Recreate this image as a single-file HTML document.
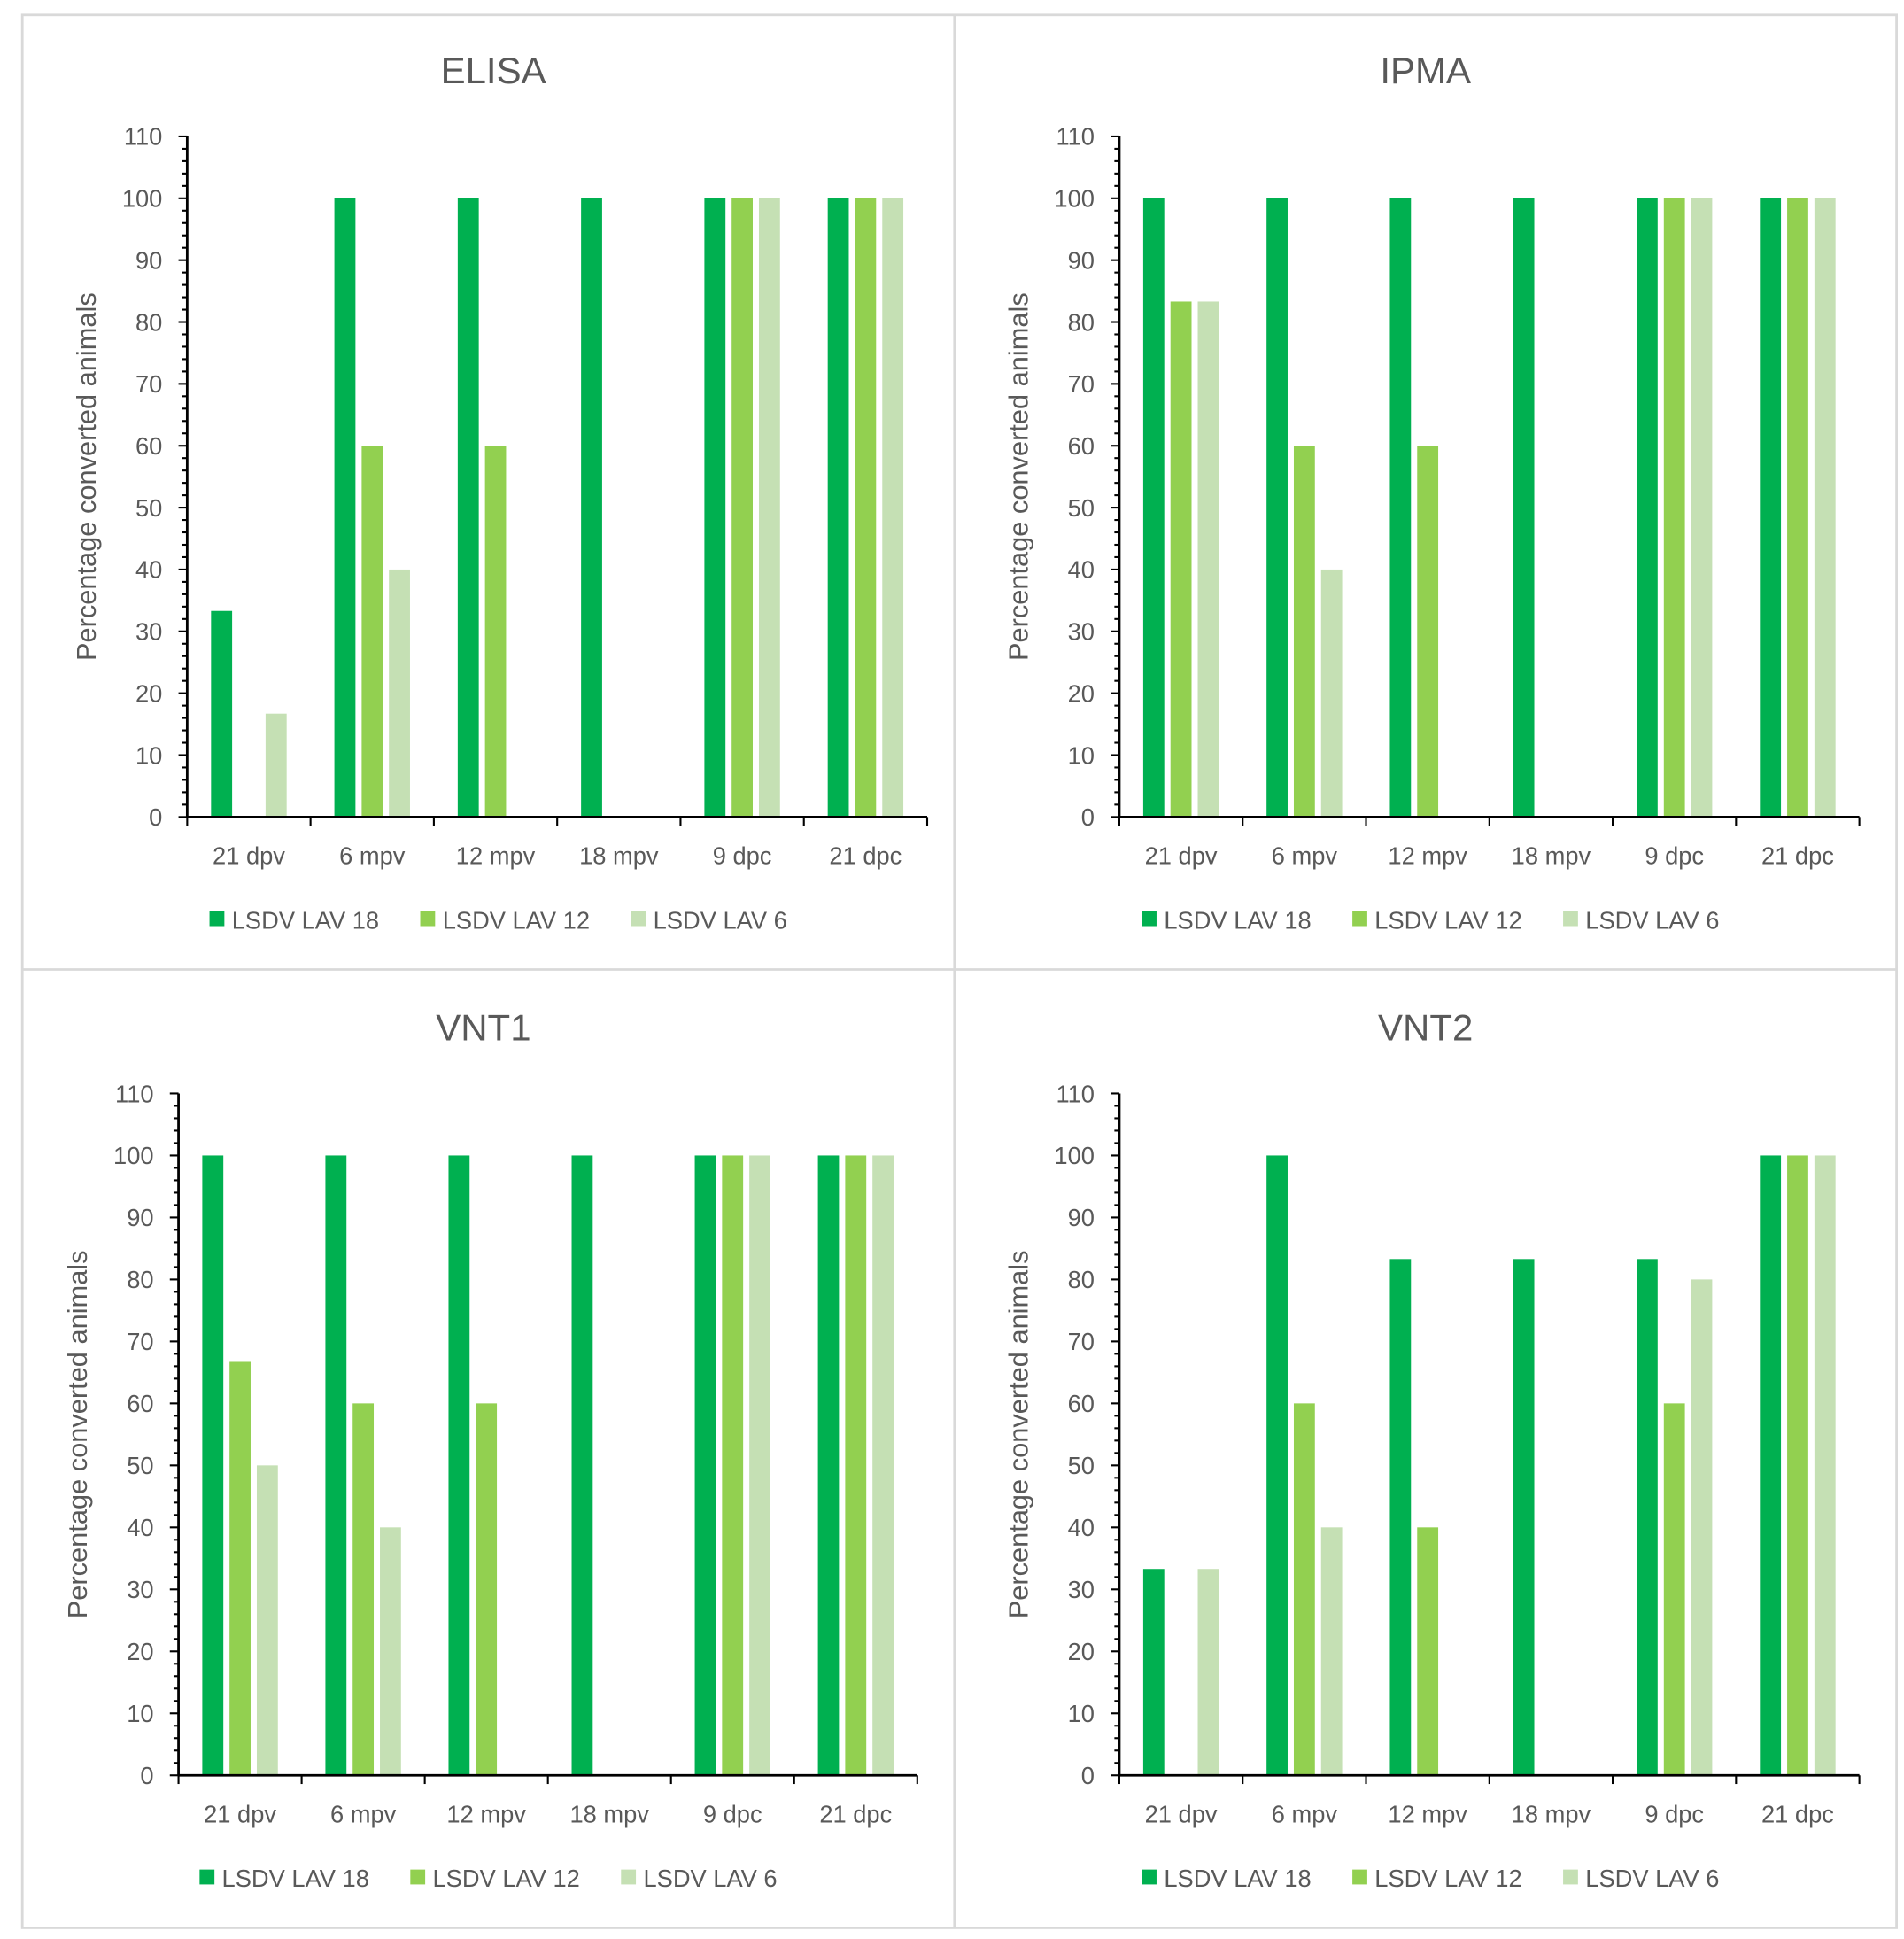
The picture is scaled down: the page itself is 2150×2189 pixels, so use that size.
<!DOCTYPE html>
<html><head><meta charset="utf-8"><style>
html,body{margin:0;padding:0;background:#fff;}
svg{display:block;}
text{font-family:"Liberation Sans",sans-serif;fill:#595959;}
</style></head><body>
<svg id="fig" width="2150" height="2189" viewBox="0 0 1536 1564" preserveAspectRatio="none" xmlns="http://www.w3.org/2000/svg">
<rect x="0" y="0" width="1536" height="1564" fill="#fff"/>
<rect x="18" y="12" width="1512" height="1543" fill="none" stroke="#d9d9d9" stroke-width="2"/>
<line x1="770" y1="12" x2="770" y2="1555" stroke="#d9d9d9" stroke-width="2"/>
<line x1="18" y1="782" x2="1530" y2="782" stroke="#d9d9d9" stroke-width="2"/>
</svg>
<script>
const categories = ["21 dpv","6 mpv","12 mpv","18 mpv","9 dpc","21 dpc"];
const seriesNames = ["LSDV LAV 18","LSDV LAV 12","LSDV LAV 6"];
const yTicks = [0,10,20,30,40,50,60,70,80,90,100,110];
const elisa18 = [33.3,100,100,100,100,100];
const elisa12 = [0,60,60,0,100,100];
const elisa6  = [16.7,40,0,0,100,100];
const ipma18 = [100,100,100,100,100,100];
const ipma12 = [83.3,60,60,0,100,100];
const ipma6  = [83.3,40,0,0,100,100];
const vnt1_18 = [100,100,100,100,100,100];
const vnt1_12 = [66.7,60,60,0,100,100];
const vnt1_6  = [50,40,0,0,100,100];
const vnt2_18 = [33.3,100,83.3,83.3,83.3,100];
const vnt2_12 = [0,60,40,0,60,100];
const vnt2_6  = [33.3,40,0,0,80,100];

const colors = ["#00b050","#92d050","#c5e0b4"];
const NS = "http://www.w3.org/2000/svg";
const svg = document.getElementById("fig");
function el(tag, attrs, parent){
  const e = document.createElementNS(NS, tag);
  for (const k in attrs) e.setAttribute(k, attrs[k]);
  (parent||svg).appendChild(e);
  return e;
}
const panels = [
  {title:"ELISA", slug:"elisa", series:[elisa18,elisa12,elisa6], x0:151, x1:748, yTop:110, yBot:659, titleX:398, titleY:67, ytX:77, legY:742, legX:175},
  {title:"IPMA", slug:"ipma", series:[ipma18,ipma12,ipma6], x0:903, x1:1500, yTop:110, yBot:659, titleX:1150, titleY:67, ytX:829, legY:742, legX:927},
  {title:"VNT1", slug:"vnt1", series:[vnt1_18,vnt1_12,vnt1_6], x0:144, x1:740, yTop:882, yBot:1432, titleX:390, titleY:839, ytX:70, legY:1515, legX:167},
  {title:"VNT2", slug:"vnt2", series:[vnt2_18,vnt2_12,vnt2_6], x0:903, x1:1500, yTop:882, yBot:1432, titleX:1150, titleY:839, ytX:829, legY:1515, legX:927}
];
panels.forEach(p => {
  const g = el("g", {});
  
  
  const yMax = yTicks[yTicks.length-1];
  const yS = v => p.yBot - (v / yMax) * (p.yBot - p.yTop);
  const cw = (p.x1 - p.x0) / categories.length;
  const xC = i => p.x0 + cw * (i + 0.5);
  const t = el("text", {x:p.titleX, y:p.titleY, "font-size":30, "text-anchor":"middle"}, g);
  t.textContent = p.title;
  
  
  p.series.forEach((vals, s) => {
    vals.forEach((v, i) => {
      if (v <= 0) return;
      const cx = xC(i) + (s - 1) * 22;
      const r = el("rect", {x:cx - 8.5, y:yS(v), width:17, height:yS(0) - yS(v), fill:colors[s]}, g);
      
      
    });
  });
  const ya = el("line", {x1:p.x0, y1:p.yTop, x2:p.x0, y2:p.yBot, stroke:"#000", "stroke-width":2}, g);
  
  
  for (let v = 0; v <= yMax; v += 2) {
    const major = v % 10 === 0;
    el("line", {x1:p.x0 - (major ? 7 : 4), y1:yS(v), x2:p.x0, y2:yS(v), stroke:"#000", "stroke-width":1.5}, g);
  }
  yTicks.forEach(v => {
    const tl = el("text", {x:p.x0 - 20, y:yS(v) + 7, "font-size":19.5, "text-anchor":"end"}, g);
    tl.textContent = v;
    
    
  });
  const ymid = (p.yTop + p.yBot) / 2;
  const yt = el("text", {x:p.ytX, y:ymid, "font-size":22, "text-anchor":"middle", transform:"rotate(-90 " + p.ytX + " " + ymid + ")"}, g);
  yt.textContent = "Percentage converted animals";
  
  
  const xa = el("line", {x1:p.x0, y1:p.yBot, x2:p.x1, y2:p.yBot, stroke:"#000", "stroke-width":2}, g);
  
  
  for (let i = 0; i <= categories.length; i++) {
    el("line", {x1:p.x0 + cw * i, y1:p.yBot, x2:p.x0 + cw * i, y2:p.yBot + 7, stroke:"#000", "stroke-width":1.5}, g);
  }
  categories.forEach((c, i) => {
    const xl = el("text", {x:xC(i), y:p.yBot + 38, "font-size":19.5, "text-anchor":"middle"}, g);
    xl.textContent = c;
    
    
  });
  seriesNames.forEach((n, s) => {
    const lx = p.legX + s * 170;
    const sw = el("rect", {x:lx - 6, y:p.legY - 7, width:12, height:12, fill:colors[s]}, g);
    
    
    const lt = el("text", {x:lx + 12, y:p.legY + 7, "font-size":19.5}, g);
    lt.textContent = n;
    
    
  });
});
</script>
</body></html>
